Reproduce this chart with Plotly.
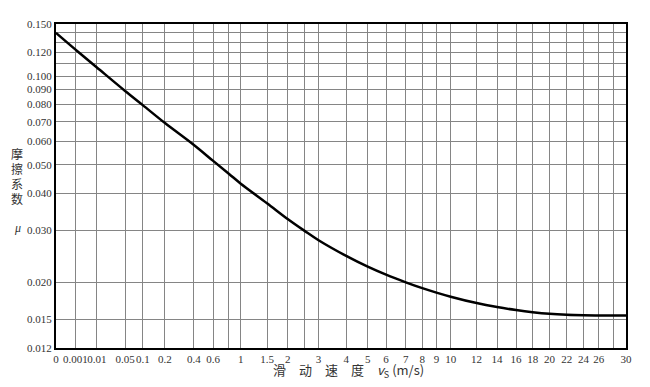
import numpy as np
import plotly.graph_objects as go

# Non-uniform velocity scale of the chart (velocity value -> axis coordinate)
scale_v = [0, 0.001, 0.01, 0.05, 0.1, 0.2, 0.4, 0.6, 0.8, 1, 1.5, 2, 2.5, 3, 4, 5, 6, 7, 8, 9,
           10, 12, 14, 16, 18, 20, 22, 24, 26, 28, 30]
scale_pos = [0, 19.3, 41, 69.3, 87, 109.3, 138.3, 157.6, 173.3, 185.3, 211.6, 232.3, 249.3, 263.3,
             291, 312.6, 331, 350.8, 367.3, 381.5, 395.8, 421.8, 442.3, 461.3, 478, 494.8, 512.3,
             529, 544.3, 559.3, 571.6]
x_ticktext = ["0", "0.001", "0.01", "0.05", "0.1", "0.2", "0.4", "0.6", "", "1", "1.5", "2", "",
              "3", "4", "5", "6", "7", "8", "9", "10", "12", "14", "16", "18", "20", "22", "24",
              "26", "", "30"]

y_tickvals = [0.012, 0.015, 0.020, 0.030, 0.040, 0.050, 0.060, 0.070, 0.080, 0.090, 0.100,
              0.110, 0.120, 0.130, 0.140, 0.150]
y_ticktext = ["0.012", "0.015", "0.020", "0.030", "0.040", "0.050", "0.060", "0.070", "0.080",
              "0.090", "0.100", "", "0.120", "", "", "0.150"]

# Friction coefficient curve
velocity = [0, 0.001, 0.01, 0.05, 0.1, 0.2, 0.4, 0.6, 0.8, 1, 1.5, 2, 2.5, 3, 4, 5, 6, 7, 8, 9,
            10, 12, 14, 16, 18, 20, 22, 24, 26, 28, 30]
mu = [0.1400, 0.1231, 0.1069, 0.0890, 0.0797, 0.0693, 0.0584, 0.0516, 0.0467, 0.0432, 0.0371,
      0.0328, 0.0299, 0.0278, 0.0246, 0.02262, 0.02125, 0.02002, 0.01913, 0.01848, 0.01790,
      0.01703, 0.01651, 0.01613, 0.01586, 0.01566, 0.01554, 0.01548, 0.01545, 0.01545, 0.01545]

y_title_chars = ["摩", "擦", "系", "数"]

x_curve = np.interp(velocity, scale_v, scale_pos)

fig = go.Figure()
fig.add_trace(go.Scatter(x=x_curve, y=mu, mode="lines",
                         line=dict(color="black", width=2.5, shape="spline", smoothing=1.0),
                         showlegend=False, hoverinfo="skip"))

serif = "Liberation Serif, Times New Roman, serif"
tick_font = dict(family=serif, size=11, color="#333")
fig.update_xaxes(range=[0, scale_pos[-1]], tickmode="array", tickvals=scale_pos,
                 ticktext=x_ticktext, tickangle=0, showgrid=True, gridcolor="#858585",
                 gridwidth=1, showline=True, linecolor="black", linewidth=2, mirror=True,
                 ticks="", tickfont=tick_font, zeroline=False)
fig.update_yaxes(type="log", range=[np.log10(0.012), np.log10(0.150)], tickmode="array",
                 tickvals=y_tickvals, ticktext=y_ticktext, showgrid=True, gridcolor="#858585",
                 gridwidth=1, showline=True, linecolor="black", linewidth=2, mirror=True,
                 ticks="", tickfont=tick_font, zeroline=False)

cjk = "Noto Sans CJK SC"
for i, ch in enumerate(y_title_chars):
    fig.add_annotation(text=ch, xref="paper", yref="paper", x=-0.068, y=0.60,
                       yshift=-15 * i, showarrow=False,
                       font=dict(family=cjk, size=12, color="#333"),
                       xanchor="center", yanchor="middle")
fig.add_annotation(text="<i>μ</i>", xref="paper", yref="y", x=-0.068, y=np.log10(0.0305),
                   showarrow=False, font=dict(family=serif, size=12, color="#333"),
                   xanchor="center", yanchor="middle")
fig.add_annotation(text="滑　动　速　度　<i>v</i><sub>S</sub> (m/s)", xref="paper", yref="paper",
                   x=0.513, y=0, yshift=-22, showarrow=False,
                   font=dict(family=cjk, size=13, color="#333"),
                   xanchor="center", yanchor="middle")

# The page body has an 8px default margin; size the figure so the plot area
# lands where it is in the reference and nothing scrolls.
fig.update_layout(width=634, height=371, margin=dict(l=48, r=15, t=10, b=31),
                  plot_bgcolor="white", paper_bgcolor="white")

fig.write_html("out.html")
